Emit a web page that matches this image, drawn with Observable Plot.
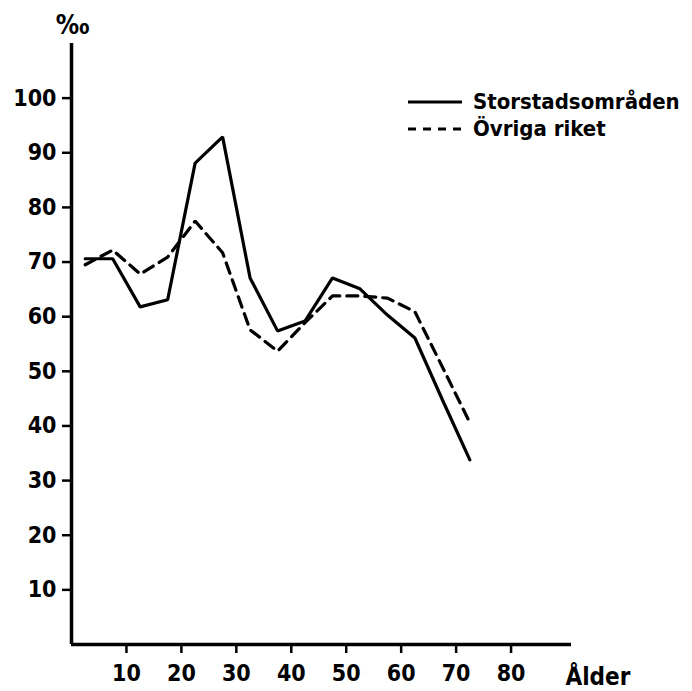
<!DOCTYPE html>
<html><head><meta charset="utf-8">
<script src="https://cdn.jsdelivr.net/npm/d3@7"></script>
<script src="https://cdn.jsdelivr.net/npm/@observablehq/plot@0.6"></script>
<style>
body{margin:0;background:#fff;}
#wrap{position:relative;width:692px;height:691px;font-family:"DejaVu Sans Condensed","DejaVu Sans",sans-serif;font-weight:bold;color:#000;}
#wrap svg.plot{position:absolute;left:0;top:0;}
.lrow{position:absolute;left:407px;height:27px;display:flex;align-items:center;font-size:22px;white-space:nowrap;}
.lrow svg{margin-right:10px;}
</style></head><body><div id="wrap"></div>
<script>
const ages = [2.5, 7.5, 12.5, 17.5, 22.5, 27.5, 32.5, 37.5, 42.5, 47.5, 52.5, 57.5, 62.5, 67.5, 72.5];
const storstad = [70.6, 70.6, 61.8, 63.1, 88.1, 92.9, 67.1, 57.4, 59.2, 67.1, 65.1, 60.3, 56.1, 44.8, 33.8];
const ovriga = [69.5, 72.2, 67.8, 70.9, 77.5, 71.7, 57.6, 53.7, 58.9, 63.8, 63.8, 63.4, 60.9, 50.8, 40.6];
const seriesNames = ["Storstadsområden", "Övriga riket"];
const xTicks = [10, 20, 30, 40, 50, 60, 70, 80];
const yTicks = [10, 20, 30, 40, 50, 60, 70, 80, 90, 100];
const yUnit = "‰";
const xTitle = "Ålder";

const rows = [];
ages.forEach((a, i) => {
  rows.push({age: a, value: storstad[i], series: seriesNames[0]});
  rows.push({age: a, value: ovriga[i], series: seriesNames[1]});
});

const font = {fontFamily: "DejaVu Sans Condensed", fontWeight: "bold", fontSize: 23};

const chart = Plot.plot({
  width: 692,
  height: 691,
  marginLeft: 71,
  marginRight: 121,
  marginTop: 43,
  marginBottom: 47,
  style: {background: "#fff", color: "#000", fontFamily: "DejaVu Sans Condensed", fontWeight: "bold", fontSize: "23px"},
  x: {domain: [0, 91]},
  y: {domain: [0, 110]},
  marks: [
    Plot.axisX({ticks: xTicks, tickSize: 9, tickPadding: 11, strokeWidth: 2.5, label: null, tickFormat: d => String(d), ...font}),
    Plot.axisY({ticks: yTicks, tickSize: 9, tickPadding: 6, strokeWidth: 2.5, label: null, tickFormat: d => String(d), ...font}),
    Plot.ruleY([0], {strokeWidth: 3.5, x1: 0, x2: 91}),
    Plot.ruleX([0], {strokeWidth: 3.5, y1: 0, y2: 110}),
    Plot.line(rows.filter(d => d.series === seriesNames[0]), {x: "age", y: "value", strokeWidth: 3.2, stroke: "#000", strokeLinejoin: "miter"}),
    Plot.line(rows.filter(d => d.series === seriesNames[1]), {x: "age", y: "value", strokeWidth: 3.2, stroke: "#000", strokeDasharray: "11,7", strokeLinejoin: "miter"}),
    Plot.text([yUnit], {frameAnchor: "top-left", text: d => d, dx: 1, dy: -28, textAnchor: "middle", ...font, fontSize: 26}),
    Plot.text([xTitle], {x: () => 91, y: () => 0, text: d => d, textAnchor: "start", dx: -6, dy: 33, ...font, fontSize: 24})
  ]
});
chart.classList.add("plot");
const wrap = document.getElementById("wrap");
wrap.appendChild(chart);

const dashes = ["", "8,7"];
seriesNames.forEach((name, i) => {
  const row = document.createElement("div");
  row.className = "lrow";
  row.style.top = (88 + i * 27) + "px";
  row.innerHTML = `<svg width="56" height="6"><line x1="1" y1="3" x2="55" y2="3" stroke="#000" stroke-width="3" ${dashes[i] ? `stroke-dasharray="${dashes[i]}"` : ""}/></svg><span>${name}</span>`;
  wrap.appendChild(row);
});
</script>
</body></html>
